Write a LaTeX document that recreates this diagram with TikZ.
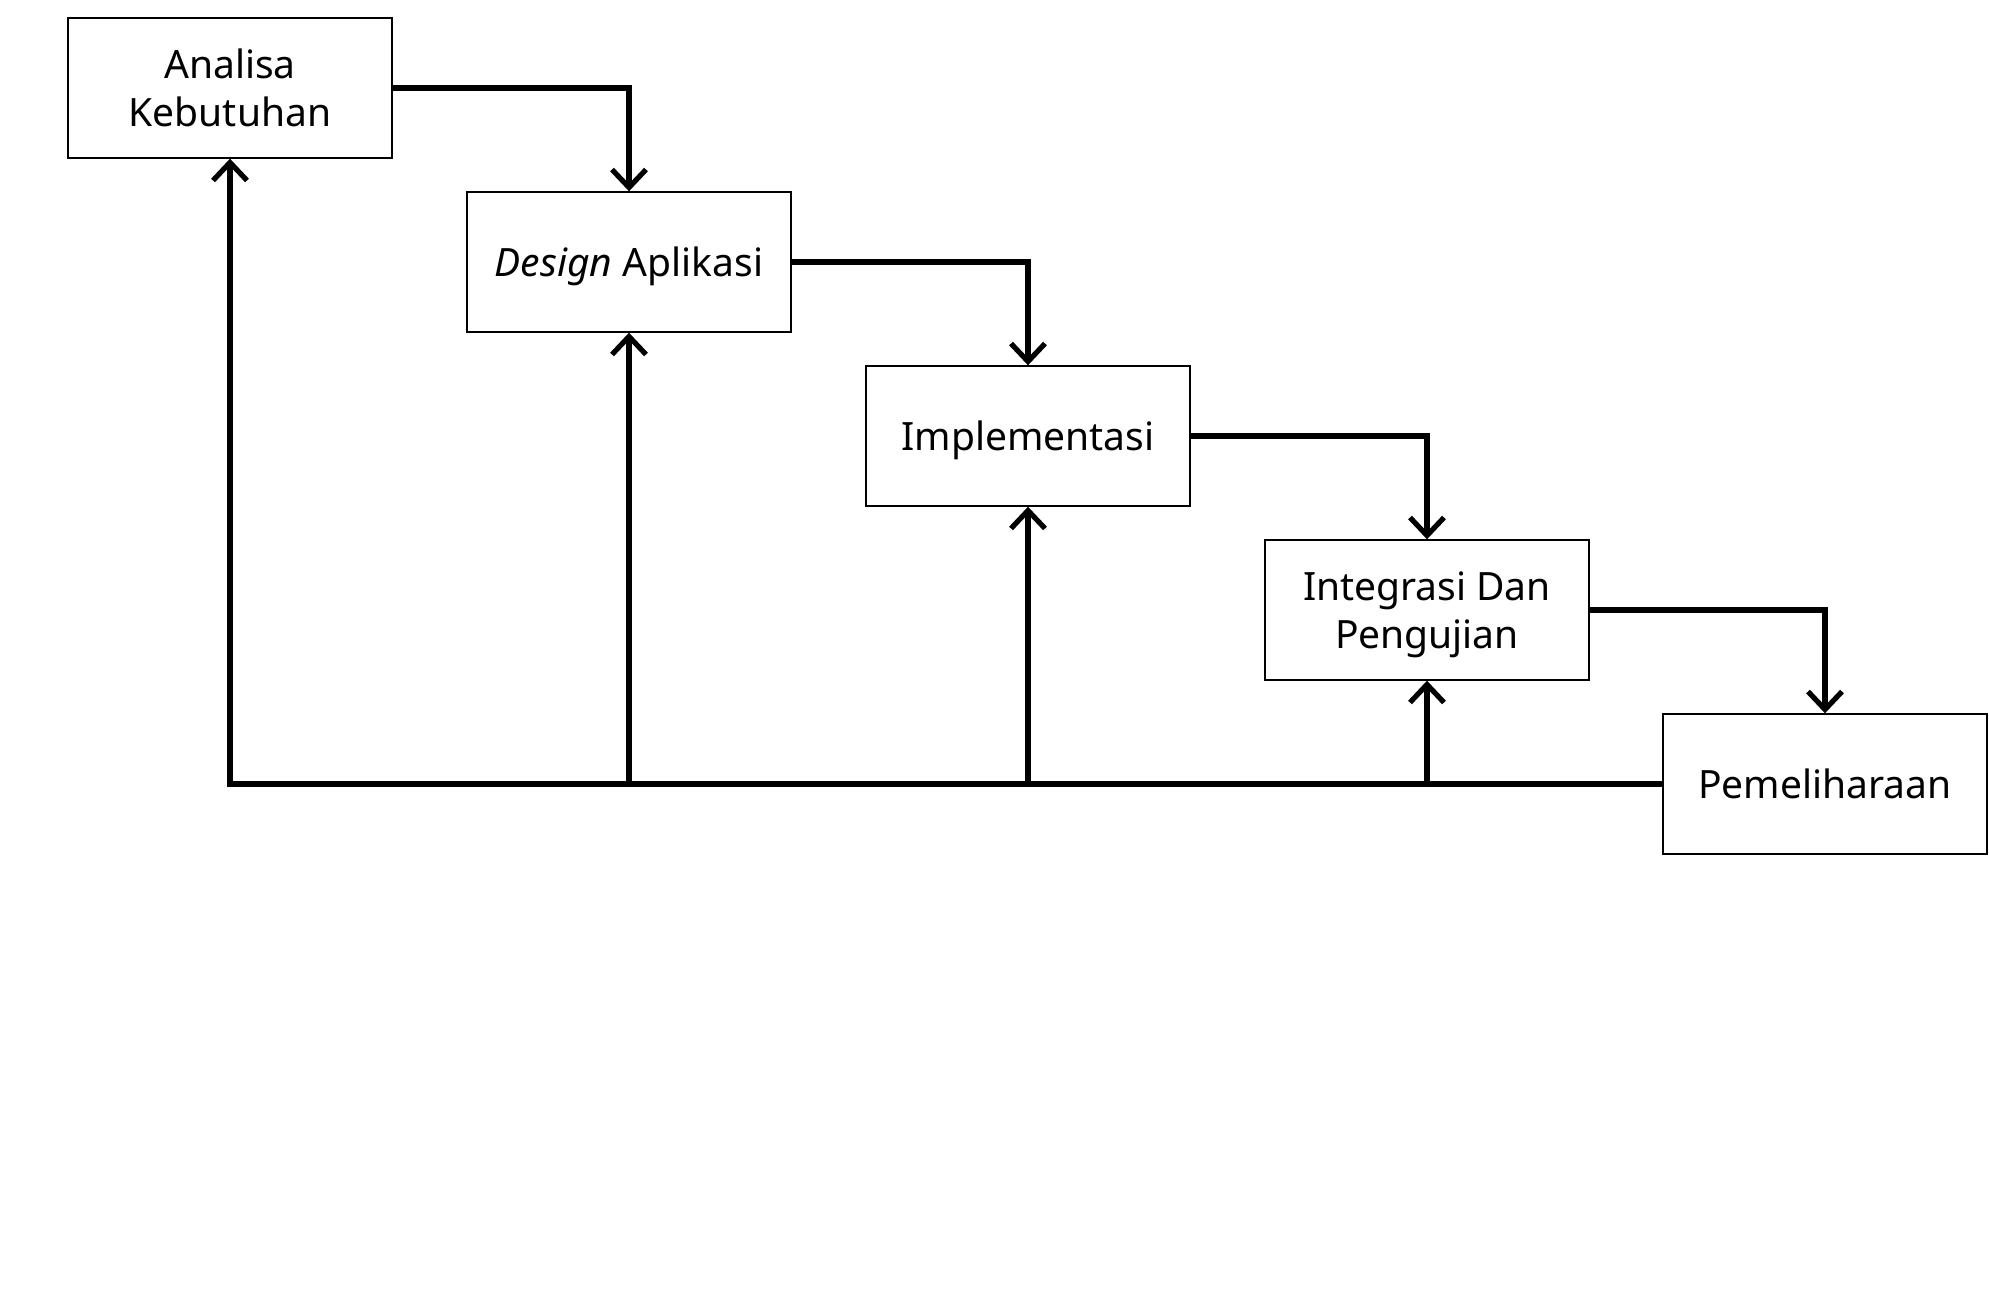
\documentclass[tikz,border=0pt]{standalone}
\usepackage{fontspec}
\setmainfont{Noto Sans}
\usetikzlibrary{arrows.meta}
\begin{document}
\begin{tikzpicture}[x=1pt,y=-1pt,
  stage/.style={draw=black,line width=1.4pt,minimum width=324pt,minimum height=140pt,
    inner sep=0pt,align=center,font=\fontsize{39}{48}\selectfont,
    text height=28pt,text depth=0pt},
  twoline/.style={text height=76pt},
  flow/.style={line width=5.2pt,line join=miter,-{Straight Barb[length=18pt,width=34pt,line width=5.2pt]}}]
\useasboundingbox (0,0) rectangle (1989,1310);
\node[stage,twoline] (a) at (230,88) {Analisa\\Kebutuhan};
\node[stage] (b) at (629,262) {\textit{Design} Aplikasi};
\node[stage] (c) at (1028,436) {Implementasi};
\node[stage,twoline] (d) at (1427,610) {Integrasi Dan\\Pengujian};
\node[stage] (e) at (1825,784) {Pemeliharaan};
\draw[flow] (a.east) -| (b.north);
\draw[flow] (b.east) -| (c.north);
\draw[flow] (c.east) -| (d.north);
\draw[flow] (d.east) -| (e.north);
\coordinate (j2) at (b.south |- e.west);
\coordinate (j3) at (c.south |- e.west);
\coordinate (j4) at (d.south |- e.west);
\draw[flow] (e.west) -| (a.south);
\draw[flow] (j2) -- (b.south);
\draw[flow] (j3) -- (c.south);
\draw[flow] (j4) -- (d.south);
\end{tikzpicture}
\end{document}
